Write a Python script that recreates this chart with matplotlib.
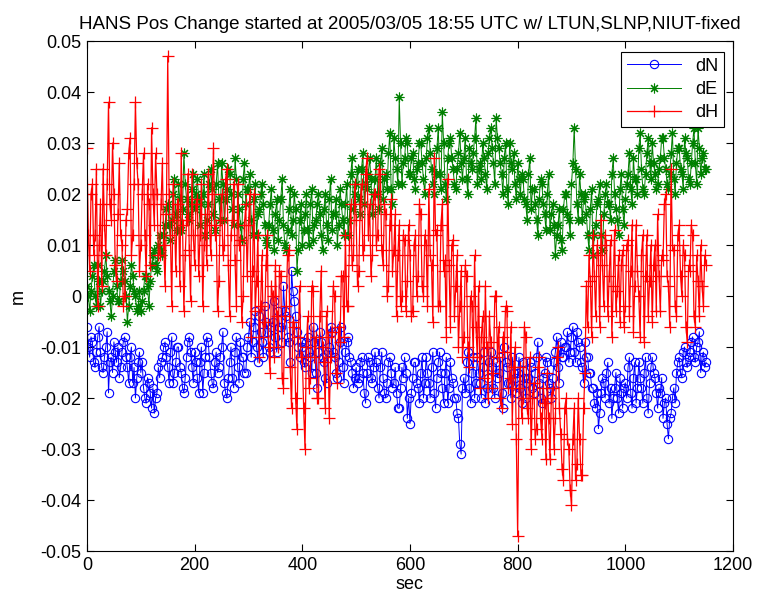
import numpy as np
import matplotlib.pyplot as plt

# deslocamentos em milímetros, uma amostra a cada 2.5 s
dN_mm = [-6, -10, -12, -8, -9, -13, -14, -11, -8, -6, -11, -14, -15, -12, -10, -7, -19, -13, -12, -15,
         -9, -11, -13, -10, -16, -14, -11, -9, -8, -12, -14, -17, -12, -10, -17, -14, -20, -16, -13, -11,
         -15, -13, -18, -20, -21, -16, -17, -19, -22, -18, -23, -20, -19, -14, -16, -13, -12, -10, -9, -12,
         -14, -17, -11, -8, -17, -15, -13, -10, -10, -14, -15, -18, -19, -16, -12, -9, -8, -11, -14, -17,
         -11, -13, -16, -19, -13, -10, -19, -15, -12, -8, -9, -12, -15, -17, -18, -13, -11, -15, -14, -12,
         -10, -7, -17, -19, -20, -16, -13, -10, -16, -18, -11, -8, -14, -17, -9, -12, -12, -15, -15, -10,
         -8, -5, -12, -9, -6, -3, -10, -13, -4, -7, -9, -12, -2, -5, -7, -10, -11, -6, -5, -1,
         -8, -11, -3, -6, -6, -9, 2, -3, -4, -8, -9, -13, 5, 1, -1, -4, -7, -10, -12, -9,
         -10, -13, -14, -9, -8, -11, -12, -15, -6, -9, -15, -18, -11, -7, -9, -12, -13, -16, -17, -11,
         -10, -6, -7, -11, -12, -15, -16, -13, -9, -6, -14, -17, -11, -9, -8, -12, -13, -15, -18, -16,
         -14, -17, -16, -13, -12, -15, -19, -21, -15, -12, -13, -16, -17, -14, -11, -13, -18, -20, -14, -11,
         -16, -19, -20, -17, -13, -12, -15, -18, -17, -14, -19, -22, -22, -18, -14, -16, -12, -15, -24, -20,
         -25, -19, -16, -13, -13, -17, -18, -21, -15, -12, -20, -17, -12, -15, -17, -20, -14, -11, -19, -22,
         -16, -13, -11, -15, -18, -21, -15, -12, -21, -18, -13, -16, -17, -20, -20, -23, -24, -29, -31, -18,
         -16, -19, -13, -11, -18, -21, -15, -12, -20, -17, -12, -15, -17, -20, -14, -11, -21, -18, -16, -13,
         -11, -14, -18, -20, -13, -16, -15, -12, -19, -22, -10, -13, -14, -17, -17, -20, -12, -15, -16, -19,
         -15, -12, -18, -21, -13, -16, -20, -17, -16, -13, -14, -18, -19, -15, -12, -9, -17, -20, -21, -16,
         -15, -12, -13, -17, -18, -20, -16, -13, -11, -8, -14, -17, -9, -12, -12, -10, -10, -7, -13, -11,
         -8, -6, -11, -13, -7, -9, -10, -13, -14, -17, -9, -12, -12, -15, -15, -18, -18, -21, -22, -19,
         -26, -23, -19, -16, -17, -20, -15, -13, -21, -18, -24, -20, -18, -15, -20, -23, -16, -19, -22, -18,
         -17, -20, -14, -12, -19, -22, -16, -13, -21, -18, -13, -16, -18, -21, -15, -12, -20, -23, -17, -14,
         -12, -15, -16, -19, -22, -18, -19, -16, -24, -21, -20, -25, -28, -24, -23, -20, -18, -21, -15, -13,
         -12, -15, -16, -11, -10, -13, -14, -12, -11, -9, -8, -12, -13, -10, -9, -7, -15, -12, -11, -14,
         -13]

dE_mm = [2, 0, -3, 1, 4, 6, 0, -2, 6, 3, -2, 1, 3, 5, 8, 4, 1, -1, -4, 0,
         5, 7, 2, -1, -1, 3, 7, 5, 3, 0, -5, -2, 2, 6, 4, 1, 0, -3, -2, 1,
         -3, -1, 1, 4, 4, 2, -2, 3, 6, 8, 9, 6, 5, 10, 12, 9, 8, 12, 14, 17,
         18, 14, 11, 15, 20, 23, 16, 13, 22, 19, 13, 17, 28, 22, 19, 16, 15, 18, 21, 24,
         17, 20, 23, 19, 14, 18, 20, 24, 12, 15, 18, 22, 25, 21, 16, 13, 22, 26, 19, 15,
         26, 22, 15, 19, 21, 25, 24, 20, 17, 14, 27, 23, 20, 17, 14, 11, 23, 26, 18, 21,
         21, 24, 15, 12, 19, 22, 12, 16, 17, 20, 22, 18, 14, 11, 10, 14, 18, 21, 13, 9,
         16, 19, 11, 15, 19, 23, 14, 10, 9, 13, 17, 21, 12, 15, 20, 17, 5, 9, 15, 18,
         10, 13, 16, 20, 13, 10, 18, 21, 11, 14, 15, 18, 20, 16, 12, 9, 17, 20, 14, 11,
         19, 23, 13, 16, 16, 19, 10, 14, 21, 18, 15, 12, 18, 22, 12, 15, 24, 27, 17, 20,
         22, 25, 19, 16, 25, 28, 18, 22, 21, 24, 27, 23, 16, 20, 23, 27, 20, 17, 26, 29,
         19, 23, 24, 21, 28, 32, 21, 18, 31, 27, 25, 22, 39, 30, 22, 26, 27, 31, 30, 24,
         24, 27, 28, 23, 21, 25, 26, 30, 30, 26, 23, 20, 27, 31, 33, 28, 25, 22, 20, 24,
         29, 33, 24, 21, 36, 30, 22, 19, 27, 30, 31, 27, 25, 22, 21, 25, 28, 32, 26, 23,
         27, 31, 23, 20, 29, 26, 25, 28, 31, 35, 22, 25, 26, 23, 30, 27, 24, 21, 28, 31,
         33, 29, 26, 22, 35, 31, 29, 26, 24, 20, 27, 30, 21, 18, 30, 26, 25, 28, 22, 19,
         26, 23, 20, 24, 23, 19, 18, 15, 24, 27, 17, 21, 21, 18, 15, 12, 19, 23, 22, 18,
         16, 13, 20, 24, 13, 16, 18, 14, 8, 12, 14, 17, 11, 9, 17, 20, 20, 16, 15, 12,
         22, 26, 33, 25, 18, 15, 24, 20, 15, 19, 20, 16, 12, 9, 17, 21, 8, 12, 14, 18,
         19, 22, 12, 9, 16, 20, 22, 18, 18, 15, 24, 27, 20, 17, 15, 12, 21, 24, 17, 14,
         19, 22, 24, 28, 21, 18, 27, 23, 23, 20, 29, 32, 25, 21, 20, 24, 28, 31, 26, 23,
         30, 26, 24, 21, 22, 25, 27, 31, 31, 27, 25, 22, 21, 24, 28, 32, 23, 20, 26, 29,
         29, 25, 24, 21, 31, 28, 27, 23, 22, 26, 30, 33, 26, 22, 33, 29, 24, 27, 28, 25,
         25]

dH_mm = [29, 12, 5, 20, 22, 8, 12, 25, -2, 10, 18, 2, 25, 14, 8, 22, 38, 18, 15, 30,
         20, 6, 3, 16, 26, 12, 10, -2, 0, 15, 17, 28, 31, 8, 12, 22, 38, 26, 22, 5,
         10, 20, 28, 12, 4, 22, 18, 6, 33, 20, 14, 28, 20, 8, 8, 18, 26, 10, 2, 16,
         47, 20, 12, -2, 22, 15, 5, 18, 18, 2, 28, 14, -3, 8, 15, 24, 9, -1, 24, 12,
         6, 18, 19, 4, 12, 22, -2, 10, 16, 6, 24, 14, 8, 20, 29, 12, 14, -3, 3, 15,
         20, 8, 10, 23, 25, 6, -4, 12, 15, 22, 7, -2, 22, 10, 11, -5, 0, 14, 18, 4,
         14, 20, -8, 5, 20, -3, 3, 12, -12, -2, 8, -8, -5, 6, 12, -10, -15, 2, 0, -12,
         6, -4, -10, 5, 4, -16, -18, -4, -2, 8, 9, -14, -22, -5, -6, -20, -26, -8, 2, -12,
         -12, -22, -30, -10, -4, -18, -16, 2, 1, -12, -8, -20, -20, -4, 5, -10, -13, -22, -3, -8,
         -24, -12, -7, 2, 0, -15, -17, -6, -9, 4, 4, -8, 12, -2, -2, 10, 18, 6, 8, 22,
         15, 2, 5, 18, 22, 8, 10, 24, 27, 12, 18, 4, 8, 20, 20, 10, 12, 25, 24, 9,
         6, 18, 16, 0, 2, 14, 19, 5, 9, 16, -4, 8, 14, -2, 0, 12, 11, -3, 3, 14,
         8, -4, -3, 10, 12, 0, 4, 18, 16, 2, 0, 12, 10, -2, 21, 8, 6, -5, 27, 12,
         13, -2, -2, 14, 18, 5, 7, -8, 23, 6, -6, 10, 11, -4, 2, 8, -10, -2, 5, -12,
         -8, 6, 4, -10, -14, 0, -2, -12, 8, -6, -12, 2, -18, -8, -4, -16, 2, -10, -20, -4,
         -9, -18, -15, 0, 0, -12, -6, -20, -22, -8, -11, -2, -3, -18, -16, -6, -25, -14, -10, -28,
         -47, -18, -14, -24, -20, -6, -8, -22, -24, -12, -30, -20, -17, -28, -26, -14, -12, -24, -28, -18,
         -21, -32, -15, -24, -32, -20, -18, -30, -24, -12, -10, -22, -27, -34, -36, -22, -20, -28, -30, -38,
         -41, -28, -22, -36, -33, -20, -28, -35, -35, -22, -15, 2, -6, 8, 3, -8, 12, 4, -4, 10,
         8, -6, 15, 6, -2, 12, 10, -4, 4, 11, -8, 2, 13, -3, 1, 8, -5, 6, 9, -6,
         -2, 10, 11, -4, 5, 14, -7, 2, 14, 5, 0, -8, 8, 12, -9, 4, 12, -4, 3, 10,
         -5, 6, 10, -3, 16, 4, -3, 8, 7, 18, 20, 4, 2, -6, 25, 10, 9, -2, -4, 12,
         14, 4, 0, 10, 8, -6, -9, 6, 5, 14, 12, -4, -6, 8, 3, -4, 10, 2, -2, 8,
         6]

dt = 2.5  # intervalo entre amostras (s)

dN = np.array(dN_mm) / 1000.0
dE = np.array(dE_mm) / 1000.0
dH = np.array(dH_mm) / 1000.0
tN = np.arange(len(dN)) * dt
tE = np.arange(len(dE)) * dt
tH = np.arange(len(dH)) * dt

plt.rcParams['font.family'] = ['Liberation Sans', 'DejaVu Sans']
plt.rcParams['font.size'] = 13

fig = plt.figure(figsize=(7.57, 6.04), dpi=100)
ax = fig.add_axes([0.1149, 0.0877, 0.8534, 0.8444])

ax.plot(tN, dN, color=(0, 0, 1), linewidth=0.7, marker='o', markersize=6,
        markerfacecolor='none', markeredgewidth=0.8, label='dN')
ax.plot(tE, dE, color=(0, 0.5, 0), linewidth=0.7, marker=(8, 2, 0), markersize=7,
        markeredgewidth=0.8, label='dE')
ax.plot(tH, dH, color=(1, 0, 0), linewidth=0.9, marker='+', markersize=9,
        markeredgewidth=0.9, label='dH')

ax.set_xlim(0, 1200)
ax.set_ylim(-0.05, 0.05)
ax.set_xticks(np.arange(0, 1201, 200))
ax.set_yticks(np.arange(-0.05, 0.051, 0.01))
ax.set_yticklabels(['-0.05', '-0.04', '-0.03', '-0.02', '-0.01', '0',
                    '0.01', '0.02', '0.03', '0.04', '0.05'])
ax.tick_params(direction='in', top=True, right=True, length=5, width=0.8, pad=4)
for s in ax.spines.values():
    s.set_linewidth(0.8)

ax.set_title("HANS Pos Change started at 2005/03/05 18:55 UTC w/ LTUN,SLNP,NIUT-fixed",
             fontsize=13.5, pad=9)
ax.set_xlabel("sec", labelpad=2)
ax.set_ylabel("m", labelpad=10)

leg = ax.legend(loc='upper right', bbox_to_anchor=(0.986, 0.978), fancybox=False,
                edgecolor='black', framealpha=1, borderaxespad=0, handlelength=3.0,
                borderpad=0.3, labelspacing=0.35)
leg.get_frame().set_linewidth(0.8)

fig.savefig('out.png', dpi=100)
